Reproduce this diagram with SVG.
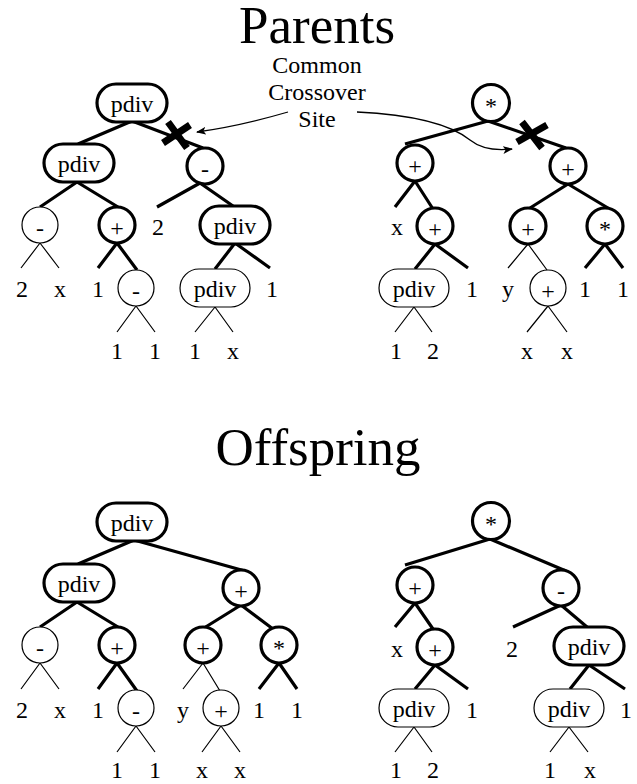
<svg xmlns="http://www.w3.org/2000/svg" width="637" height="784" viewBox="0 0 637 784" font-family="Liberation Serif, serif">
<defs>
<marker id="ah" viewBox="0 0 10 8" refX="9" refY="4" markerWidth="10" markerHeight="8" markerUnits="userSpaceOnUse" orient="auto">
<path d="M0,0 L10,4 L0,8 L2.5,4 Z" fill="#000"/>
</marker>
</defs>
<style>
text{font-size:24px;fill:#000;text-anchor:middle}
.title{font-size:53px}
.thick{fill:#fff;stroke:#000;stroke-width:3.2}
.thin{fill:#fff;stroke:#000;stroke-width:1.2}
.e{stroke:#000;stroke-width:3.2;fill:none}
.t{stroke:#000;stroke-width:1.2;fill:none}
.cut{stroke:#000;stroke-width:7;fill:none}
.arr{stroke:#000;stroke-width:1.3;fill:none;marker-end:url(#ah)}
</style>
<rect width="637" height="784" fill="#fff"/>
<text class="title" x="317" y="43">Parents</text>
<text class="title" x="318" y="465">Offspring</text>
<g id="note">
<text x="317" y="73">Common</text>
<text x="317" y="100">Crossover</text>
<text x="317" y="127">Site</text>
</g>
<g id="connectors">
<path class="e" d="M132,121 L78,144 M132,121 L203,148"/>
<path class="e" d="M77,182 L40,207 M77,182 L118,207"/>
<path class="e" d="M200,183 L157,207 M200,183 L233,206"/>
<path class="t" d="M40,243 L21,268 M40,243 L59,268"/>
<path class="e" d="M117,243 L98,268 M117,243 L137,270"/>
<path class="t" d="M136,306 L117,332 M136,306 L155,332"/>
<path class="e" d="M235,243 L215,269 M235,243 L270,268"/>
<path class="t" d="M215,307 L195,332 M215,307 L233,332"/>
<path class="e" d="M488,121 L405,144 M488,121 L566,148"/>
<path class="e" d="M415,181 L395,207 M415,181 L433,209"/>
<path class="e" d="M435,244 L415,269 M435,244 L468,268"/>
<path class="t" d="M414,307 L395,332 M414,307 L432,332"/>
<path class="e" d="M568,184 L530,208 M568,184 L608,208"/>
<path class="t" d="M528,244 L508,268 M528,244 L547,270"/>
<path class="t" d="M548,306 L527,332 M548,306 L567,332"/>
<path class="e" d="M605,244 L585,268 M605,244 L623,268"/>
<path class="cut" d="M163,143 L190,125 M168,122 L187,148"/>
<path class="cut" d="M517,142 L547,125 M522,122 L542,148"/>
<path class="arr" d="M288,112 Q240,126 197,132"/>
<path class="arr" d="M357,112 Q440,116 470,140 Q485,152 512,149"/>
<path class="e" d="M134,540 L78,564 M134,540 L245,571"/>
<path class="e" d="M77,602 L40,627 M77,602 L118,627"/>
<path class="e" d="M241,605 L204,628 M241,605 L273,629"/>
<path class="t" d="M40,663 L21,689 M40,663 L59,689"/>
<path class="e" d="M117,663 L98,689 M117,663 L137,691"/>
<path class="t" d="M136,726 L117,752 M136,726 L155,752"/>
<path class="t" d="M203,663 L183,689 M203,663 L220,691"/>
<path class="t" d="M221,726 L202,752 M221,726 L240,752"/>
<path class="e" d="M279,663 L259,689 M279,663 L297,689"/>
<path class="e" d="M490,539 L405,565 M490,539 L566,571"/>
<path class="e" d="M415,603 L395,627 M415,603 L433,629"/>
<path class="e" d="M561,605 L513,627 M561,605 L587,627"/>
<path class="e" d="M435,665 L415,689 M435,665 L468,689"/>
<path class="t" d="M414,727 L395,752 M414,727 L432,752"/>
<path class="e" d="M589,665 L570,689 M589,665 L625,689"/>
<path class="t" d="M569,727 L550,752 M569,727 L588,752"/>
</g>
<g id="p1-root"><rect class="thick" x="97" y="84" width="70" height="38" rx="19"/><text x="132" y="112">pdiv</text></g>
<g id="p1-l"><rect class="thick" x="44" y="144" width="70" height="38" rx="19"/><text x="79" y="172">pdiv</text></g>
<g id="p1-r"><circle class="thick" cx="205" cy="166" r="18"/><text x="205" y="177">-</text></g>
<g id="p1-ll"><circle class="thin" cx="40" cy="225" r="18"/><text x="40" y="236">-</text></g>
<g id="p1-lr"><circle class="thick" cx="117" cy="225" r="18"/><text x="117" y="236">+</text></g>
<g id="p1-rl"><text x="158" y="235">2</text></g>
<g id="p1-rr"><rect class="thick" x="200" y="206" width="70" height="38" rx="19"/><text x="235" y="234">pdiv</text></g>
<g id="p1-lll"><text x="22" y="297">2</text></g>
<g id="p1-llr"><text x="60" y="297">x</text></g>
<g id="p1-lrl"><text x="98" y="297">1</text></g>
<g id="p1-lrr"><circle class="thin" cx="136" cy="288" r="18"/><text x="136" y="299">-</text></g>
<g id="p1-lrrl"><text x="117" y="359">1</text></g>
<g id="p1-lrrr"><text x="155" y="359">1</text></g>
<g id="p1-rrl"><rect class="thin" x="180" y="269" width="70" height="38" rx="19"/><text x="215" y="297">pdiv</text></g>
<g id="p1-rrr"><text x="272" y="297">1</text></g>
<g id="p1-rrll"><text x="195" y="359">1</text></g>
<g id="p1-rrlr"><text x="233" y="359">x</text></g>
<g id="p2-root"><circle class="thick" cx="491" cy="103" r="18.5"/><text x="491" y="114">*</text></g>
<g id="p2-l"><circle class="thick" cx="415" cy="163" r="18"/><text x="415" y="174">+</text></g>
<g id="p2-r"><circle class="thick" cx="568" cy="166" r="18"/><text x="568" y="177">+</text></g>
<g id="p2-ll"><text x="397" y="235">x</text></g>
<g id="p2-lr"><circle class="thick" cx="435" cy="226" r="18"/><text x="435" y="237">+</text></g>
<g id="p2-rl"><circle class="thick" cx="528" cy="226" r="18"/><text x="528" y="237">+</text></g>
<g id="p2-rr"><circle class="thick" cx="605" cy="226" r="18"/><text x="605" y="237">*</text></g>
<g id="p2-lrl"><rect class="thin" x="379" y="269" width="70" height="38" rx="19"/><text x="414" y="297">pdiv</text></g>
<g id="p2-lrr"><text x="472" y="297">1</text></g>
<g id="p2-lrll"><text x="396" y="359">1</text></g>
<g id="p2-lrlr"><text x="433" y="359">2</text></g>
<g id="p2-rll"><text x="508" y="297">y</text></g>
<g id="p2-rlr"><circle class="thin" cx="548" cy="288" r="18"/><text x="548" y="299">+</text></g>
<g id="p2-rlrl"><text x="527" y="359">x</text></g>
<g id="p2-rlrr"><text x="567" y="359">x</text></g>
<g id="p2-rrl"><text x="585" y="297">1</text></g>
<g id="p2-rrr"><text x="623" y="297">1</text></g>
<g id="o1-root"><rect class="thick" x="97" y="503" width="70" height="38" rx="19"/><text x="132" y="531">pdiv</text></g>
<g id="o1-l"><rect class="thick" x="44" y="564" width="70" height="38" rx="19"/><text x="79" y="592">pdiv</text></g>
<g id="o1-r"><circle class="thick" cx="241" cy="588" r="18"/><text x="241" y="599">+</text></g>
<g id="o1-ll"><circle class="thin" cx="40" cy="645" r="18"/><text x="40" y="656">-</text></g>
<g id="o1-lr"><circle class="thick" cx="117" cy="645" r="18"/><text x="117" y="656">+</text></g>
<g id="o1-rl"><circle class="thick" cx="203" cy="645" r="18"/><text x="203" y="656">+</text></g>
<g id="o1-rr"><circle class="thick" cx="279" cy="645" r="18"/><text x="279" y="656">*</text></g>
<g id="o1-lll"><text x="22" y="718">2</text></g>
<g id="o1-llr"><text x="60" y="718">x</text></g>
<g id="o1-lrl"><text x="98" y="718">1</text></g>
<g id="o1-lrr"><circle class="thin" cx="136" cy="708" r="18"/><text x="136" y="719">-</text></g>
<g id="o1-lrrl"><text x="117" y="778">1</text></g>
<g id="o1-lrrr"><text x="155" y="778">1</text></g>
<g id="o1-rll"><text x="183" y="718">y</text></g>
<g id="o1-rlr"><circle class="thin" cx="221" cy="708" r="18"/><text x="221" y="719">+</text></g>
<g id="o1-rlrl"><text x="202" y="778">x</text></g>
<g id="o1-rlrr"><text x="240" y="778">x</text></g>
<g id="o1-rrl"><text x="259" y="718">1</text></g>
<g id="o1-rrr"><text x="297" y="718">1</text></g>
<g id="o2-root"><circle class="thick" cx="491" cy="521" r="18.5"/><text x="491" y="532">*</text></g>
<g id="o2-l"><circle class="thick" cx="415" cy="585" r="18"/><text x="415" y="596">+</text></g>
<g id="o2-r"><circle class="thick" cx="561" cy="588" r="18"/><text x="561" y="599">-</text></g>
<g id="o2-ll"><text x="397" y="657">x</text></g>
<g id="o2-lr"><circle class="thick" cx="435" cy="647" r="18"/><text x="435" y="658">+</text></g>
<g id="o2-rl"><text x="512" y="657">2</text></g>
<g id="o2-rr"><rect class="thick" x="554" y="627" width="70" height="38" rx="19"/><text x="589" y="655">pdiv</text></g>
<g id="o2-lrl"><rect class="thin" x="379" y="689" width="70" height="38" rx="19"/><text x="414" y="717">pdiv</text></g>
<g id="o2-lrr"><text x="472" y="718">1</text></g>
<g id="o2-lrll"><text x="396" y="778">1</text></g>
<g id="o2-lrlr"><text x="433" y="778">2</text></g>
<g id="o2-rrl"><rect class="thin" x="534" y="689" width="70" height="38" rx="19"/><text x="569" y="717">pdiv</text></g>
<g id="o2-rrr"><text x="626" y="718">1</text></g>
<g id="o2-rrll"><text x="550" y="778">1</text></g>
<g id="o2-rrlr"><text x="590" y="778">x</text></g>
</svg>
